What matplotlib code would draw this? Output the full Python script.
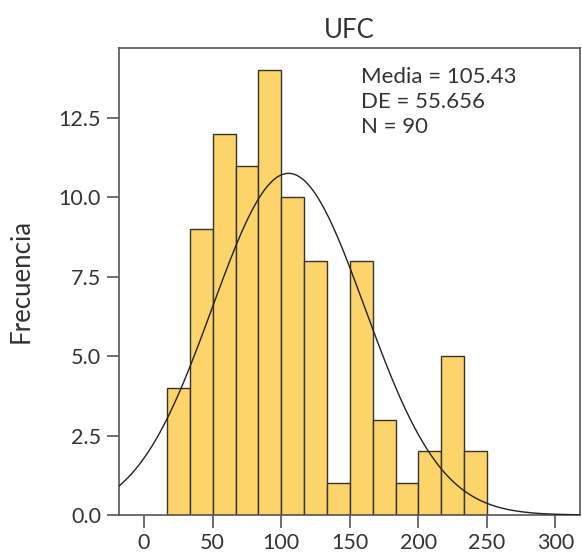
import numpy as np
import matplotlib
matplotlib.use("Agg")
import matplotlib.pyplot as plt

# Data
bin_start = 16.8
bin_width = 16.67
counts = [4, 9, 12, 11, 14, 10, 8, 1, 8, 3, 1, 2, 5, 2]
mean = 105.43
sd = 55.656
n = 90
xticks = [0, 50, 100, 150, 200, 250, 300]
yticks = [0.0, 2.5, 5.0, 7.5, 10.0, 12.5]

plt.rcParams['font.family'] = ['Lato', 'DejaVu Sans']

fig = plt.figure(figsize=(5.82, 5.55), dpi=100)
ax = fig.add_axes([0.2045, 0.0721, 0.7921, 0.8414])

edges = bin_start + bin_width * np.arange(len(counts) + 1)
ax.bar(edges[:-1], counts, width=bin_width, align='edge',
       color='#FDD46A', edgecolor='#333333', linewidth=1.0, zorder=2)

xmin, xmax = -18.2, 318
xs = np.linspace(xmin, xmax, 500)
ys = n * bin_width / (sd * np.sqrt(2 * np.pi)) * np.exp(-0.5 * ((xs - mean) / sd) ** 2)
ax.plot(xs, ys, color='#222222', linewidth=1.0, zorder=3)

ax.set_xlim(xmin, xmax)
ax.set_ylim(0, 14.7)
ax.set_xticks(xticks)
ax.set_xticklabels([str(v) for v in xticks])
ax.set_yticks(yticks)
ax.set_yticklabels([f"{v:.1f}" for v in yticks])
ax.tick_params(axis='both', labelsize=15.5, length=9, width=1.2, color='#555555',
               labelcolor='#333333', pad=4)
for s in ax.spines.values():
    s.set_color('#555555')
    s.set_linewidth(1.2)

ax.set_title('UFC', fontsize=18.5, color='#333333', pad=7)
ax.set_ylabel('Frecuencia', fontsize=18.5, color='#333333', labelpad=18)

ax.text(0.525, 0.96, f"Media = {mean:.2f}\nDE = {sd:.3f}\nN = {n}",
        transform=ax.transAxes, ha='left', va='top', fontsize=16,
        color='#333333', linespacing=1.32)

fig.savefig('out.png', dpi=100)
